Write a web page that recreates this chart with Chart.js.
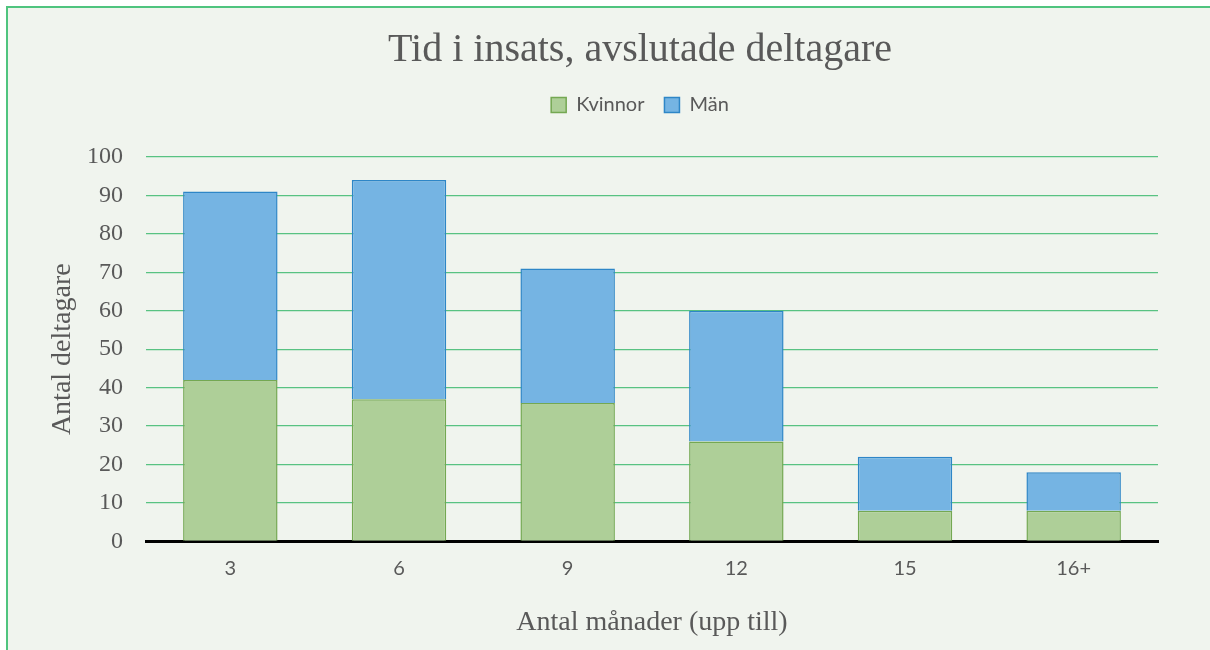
<!DOCTYPE html>
<html>
<head>
<meta charset="utf-8">
<script src="https://cdn.jsdelivr.net/npm/chart.js@4"></script>
<style>
  html, body { margin: 0; padding: 0; overflow: hidden; background: #fff; }
  canvas { display: block; }
</style>
</head>
<body>
<canvas id="myChart" width="1246" height="650"></canvas>
<script>
// data
const categories = ['3', '6', '9', '12', '15', '16+'];
const kvinnor = [42, 37, 36, 26, 8, 8];
const man = [49, 57, 35, 34, 14, 10];
const yTicks = { min: 0, max: 100, step: 10 };

const textGrey = '#595959';

// panel background + green frame line
const frame = {
    id: 'frame',
    beforeDraw(chart) {
        const c = chart.ctx;
        c.save();
        c.fillStyle = '#ffffff';
        c.fillRect(0, 0, chart.width, chart.height);
        c.fillStyle = '#F0F4EE';
        c.fillRect(6, 6, chart.width - 6, chart.height - 6);
        c.strokeStyle = '#4FC47E';
        c.lineWidth = 2;
        c.beginPath();
        c.moveTo(7, chart.height);
        c.lineTo(7, 7);
        c.lineTo(chart.width, 7);
        c.stroke();
        c.restore();
    }
};

const data = {
    labels: categories,
    datasets: [
        {
            label: 'Kvinnor',
            data: kvinnor,
            backgroundColor: '#AECF98',
            borderColor: '#74A852',
            borderWidth: 1.5,
            categoryPercentage: 1,
            barPercentage: 0.56
        }, {
            label: 'Män',
            data: man,
            backgroundColor: '#75B4E3',
            borderColor: '#2E86C7',
            borderWidth: 1.5,
            categoryPercentage: 1,
            barPercentage: 0.56
        }
    ]
};

const config = {
    type: 'bar',
    data: data,
    plugins: [frame],
    options: {
        responsive: false,
        animation: false,
        layout: {
            padding: { top: 6, left: 34, right: 0, bottom: 6 }
        },
        plugins: {
            title: {
                display: true,
                text: 'Tid i insats, avslutade deltagare',
                color: textGrey,
                font: { family: 'Liberation Serif', size: 40, weight: 'normal' },
                padding: { top: 20, bottom: 1 }
            },
            legend: {
                labels: {
                    color: textGrey,
                    font: { family: 'Lato', size: 20 },
                    boxWidth: 15,
                    boxHeight: 15,
                    padding: 20
                }
            },
            tooltip: { enabled: false }
        },
        scales: {
            x: {
                stacked: true,
                grid: { display: false, drawTicks: false },
                border: { color: '#000000', width: 3 },
                ticks: {
                    color: textGrey,
                    font: { family: 'Lato', size: 20 },
                    padding: 15
                },
                title: {
                    display: true,
                    text: 'Antal månader (upp till)',
                    color: textGrey,
                    font: { family: 'Liberation Serif', size: 28 },
                    padding: { top: 10, bottom: 5 }
                }
            },
            y: {
                stacked: true,
                min: yTicks.min,
                max: yTicks.max,
                ticks: {
                    stepSize: yTicks.step,
                    color: textGrey,
                    font: { family: 'Liberation Serif', size: 24 },
                    padding: 23
                },
                grid: { color: '#58C282', lineWidth: 1.3, drawTicks: false },
                border: { display: false },
                title: {
                    display: true,
                    text: 'Antal deltagare',
                    color: textGrey,
                    font: { family: 'Liberation Serif', size: 28 },
                    padding: { top: 12, bottom: 0 }
                },
                afterFit(scale) { scale.width = 112; }
            },
            // empty spacer axes, used only to place the plot area
            xTop: {
                type: 'category',
                position: 'top',
                ticks: { display: false },
                grid: { display: false },
                border: { display: false },
                afterFit(scale) { scale.height = 32; }
            },
            yRight: {
                type: 'linear',
                position: 'right',
                ticks: { display: false },
                grid: { display: false },
                border: { display: false },
                afterFit(scale) { scale.width = 88; }
            }
        }
    }
};

const ctx = document.getElementById('myChart').getContext('2d');
new Chart(ctx, config);
</script>
</body>
</html>
